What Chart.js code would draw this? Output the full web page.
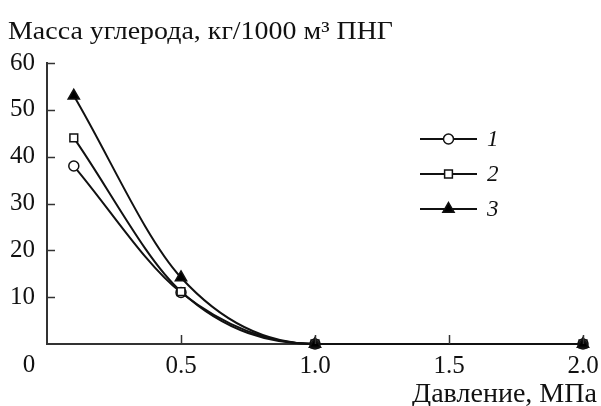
<!DOCTYPE html>
<html>
<head>
<meta charset="utf-8">
<script src="https://cdn.jsdelivr.net/npm/chart.js@4/dist/chart.umd.min.js"></script>
<style>
  html, body { margin: 0; padding: 0; background: #fff; }
  #wrap { width: 601px; height: 406px; }
</style>
</head>
<body>
<div id="wrap"><canvas id="myChart" width="601" height="406"></canvas></div>
<script>
// pressure, MPa
const pressure = [0.1, 0.5, 1.0, 2.0];
// carbon mass per 1000 m3 of gas
const series1 = [38, 11, 0, 0];
const series2 = [44, 11.2, 0, 0];
const series3 = [53, 14.2, 0, 0];
const seriesNames = ['1', '2', '3'];
const xTicks = [0, 0.5, 1.0, 1.5, 2.0];
const yTicks = [0, 10, 20, 30, 40, 50, 60];
const yTitle = 'Масса углерода, кг/1000 м³ ПНГ';
const xTitle = 'Давление, МПа';

const serif = "'Liberation Serif', 'DejaVu Serif', serif";
const axisColor = '#333';
const textColor = '#111';

const toPoints = (values) => values.map((v, i) => ({ x: pressure[i], y: v }));

const styles = [
  { pointStyle: 'circle', pointRadius: 5, pointBackgroundColor: '#fff' },
  { pointStyle: 'rect', pointRadius: 5.5, pointBackgroundColor: '#fff' },
  { pointStyle: 'triangle', pointRadius: 6.5, pointBackgroundColor: '#000' },
];

const datasets = [series1, series2, series3].map((values, i) => ({
  label: seriesNames[i],
  data: toPoints(values),
  borderColor: '#111',
  borderWidth: 2,
  pointBorderColor: '#111',
  pointBorderWidth: 1.5,
  cubicInterpolationMode: 'monotone',
  clip: false,
  order: 2 - i,
  ...styles[i],
}));

// the titles in the reference are set a bit wider than the font, so stretch them
function fitText(ctx, text, x, y, width, align) {
  const w = ctx.measureText(text).width;
  ctx.save();
  ctx.translate(align === 'right' ? x - width : x, y);
  ctx.scale(width / w, 1);
  ctx.textAlign = 'left';
  ctx.fillText(text, 0, 0);
  ctx.restore();
}

// ticks pointing into the plot, the shared "0" and both titles
const axisExtras = {
  id: 'axisExtras',
  afterDraw(chart) {
    const { ctx, chartArea, scales } = chart;
    ctx.save();
    ctx.strokeStyle = axisColor;
    ctx.lineWidth = 1.5;
    yTicks.filter((v) => v > 0).forEach((v) => {
      const y = Math.round(scales.y.getPixelForValue(v)) + 0.5;
      ctx.beginPath();
      ctx.moveTo(chartArea.left, y);
      ctx.lineTo(chartArea.left + 8, y);
      ctx.stroke();
    });
    xTicks.filter((v) => v > 0).forEach((v) => {
      const x = Math.round(scales.x.getPixelForValue(v)) + 0.5;
      ctx.beginPath();
      ctx.moveTo(x, chartArea.bottom);
      ctx.lineTo(x, chartArea.bottom - 9);
      ctx.stroke();
    });

    ctx.fillStyle = textColor;
    ctx.font = '25px ' + serif;
    ctx.textBaseline = 'middle';
    ctx.textAlign = 'center';
    ctx.fillText('0', 29, 365);

    ctx.textBaseline = 'alphabetic';
    ctx.font = '25px ' + serif;
    fitText(ctx, yTitle, 8, 39, 385, 'left');
    ctx.font = '27px ' + serif;
    fitText(ctx, xTitle, 597, 402, 185, 'right');
    ctx.restore();
  },
};

// legend: short line with the marker in the middle, italic number on the right
const lineLegend = {
  id: 'lineLegend',
  afterDraw(chart) {
    const { ctx } = chart;
    const x0 = 420, x1 = 477, rowY = [139, 174, 209];
    ctx.save();
    chart.data.datasets.forEach((ds, i) => {
      const y = rowY[i];
      ctx.strokeStyle = ds.borderColor;
      ctx.lineWidth = 2;
      ctx.beginPath();
      ctx.moveTo(x0, y);
      ctx.lineTo(x1, y);
      ctx.stroke();
      ctx.fillStyle = ds.pointBackgroundColor;
      ctx.strokeStyle = ds.pointBorderColor;
      ctx.lineWidth = ds.pointBorderWidth;
      Chart.helpers.drawPoint(ctx, {
        pointStyle: ds.pointStyle,
        radius: ds.pointRadius,
        rotation: 0,
        borderWidth: ds.pointBorderWidth,
      }, (x0 + x1) / 2, y);
      ctx.fillStyle = textColor;
      ctx.font = 'italic 23px ' + serif;
      ctx.textAlign = 'left';
      ctx.textBaseline = 'middle';
      ctx.fillText(ds.label, 487, y + 1);
    });
    ctx.restore();
  },
};

new Chart(document.getElementById('myChart'), {
  type: 'line',
  data: { datasets },
  options: {
    responsive: false,
    animation: false,
    layout: { padding: { left: 8, right: 18, top: 63, bottom: 0 } },
    plugins: {
      legend: { display: false },
      tooltip: { enabled: false },
    },
    scales: {
      x: {
        type: 'linear',
        min: 0,
        max: 2,
        afterBuildTicks: (scale) => { scale.ticks = xTicks.map((v) => ({ value: v })); },
        afterFit: (scale) => {
          scale.height = 62;
          scale.paddingLeft = 0;
          scale.paddingRight = 0;
        },
        grid: { display: false, drawTicks: false },
        border: { display: true, color: axisColor, width: 2 },
        ticks: {
          color: textColor,
          padding: 7,
          maxRotation: 0,
          font: { family: serif, size: 25 },
          callback: (v) => (v === 0 ? '' : v.toFixed(1)),
        },
      },
      y: {
        min: 0,
        max: 60,
        afterBuildTicks: (scale) => { scale.ticks = yTicks.map((v) => ({ value: v })); },
        afterFit: (scale) => { scale.width = 39; },
        grid: { display: false, drawTicks: false },
        border: { display: true, color: axisColor, width: 2 },
        ticks: {
          color: textColor,
          padding: 12,
          font: { family: serif, size: 25 },
          callback: (v) => (v === 0 ? '' : v),
        },
      },
    },
  },
  plugins: [axisExtras, lineLegend],
});
</script>
</body>
</html>
